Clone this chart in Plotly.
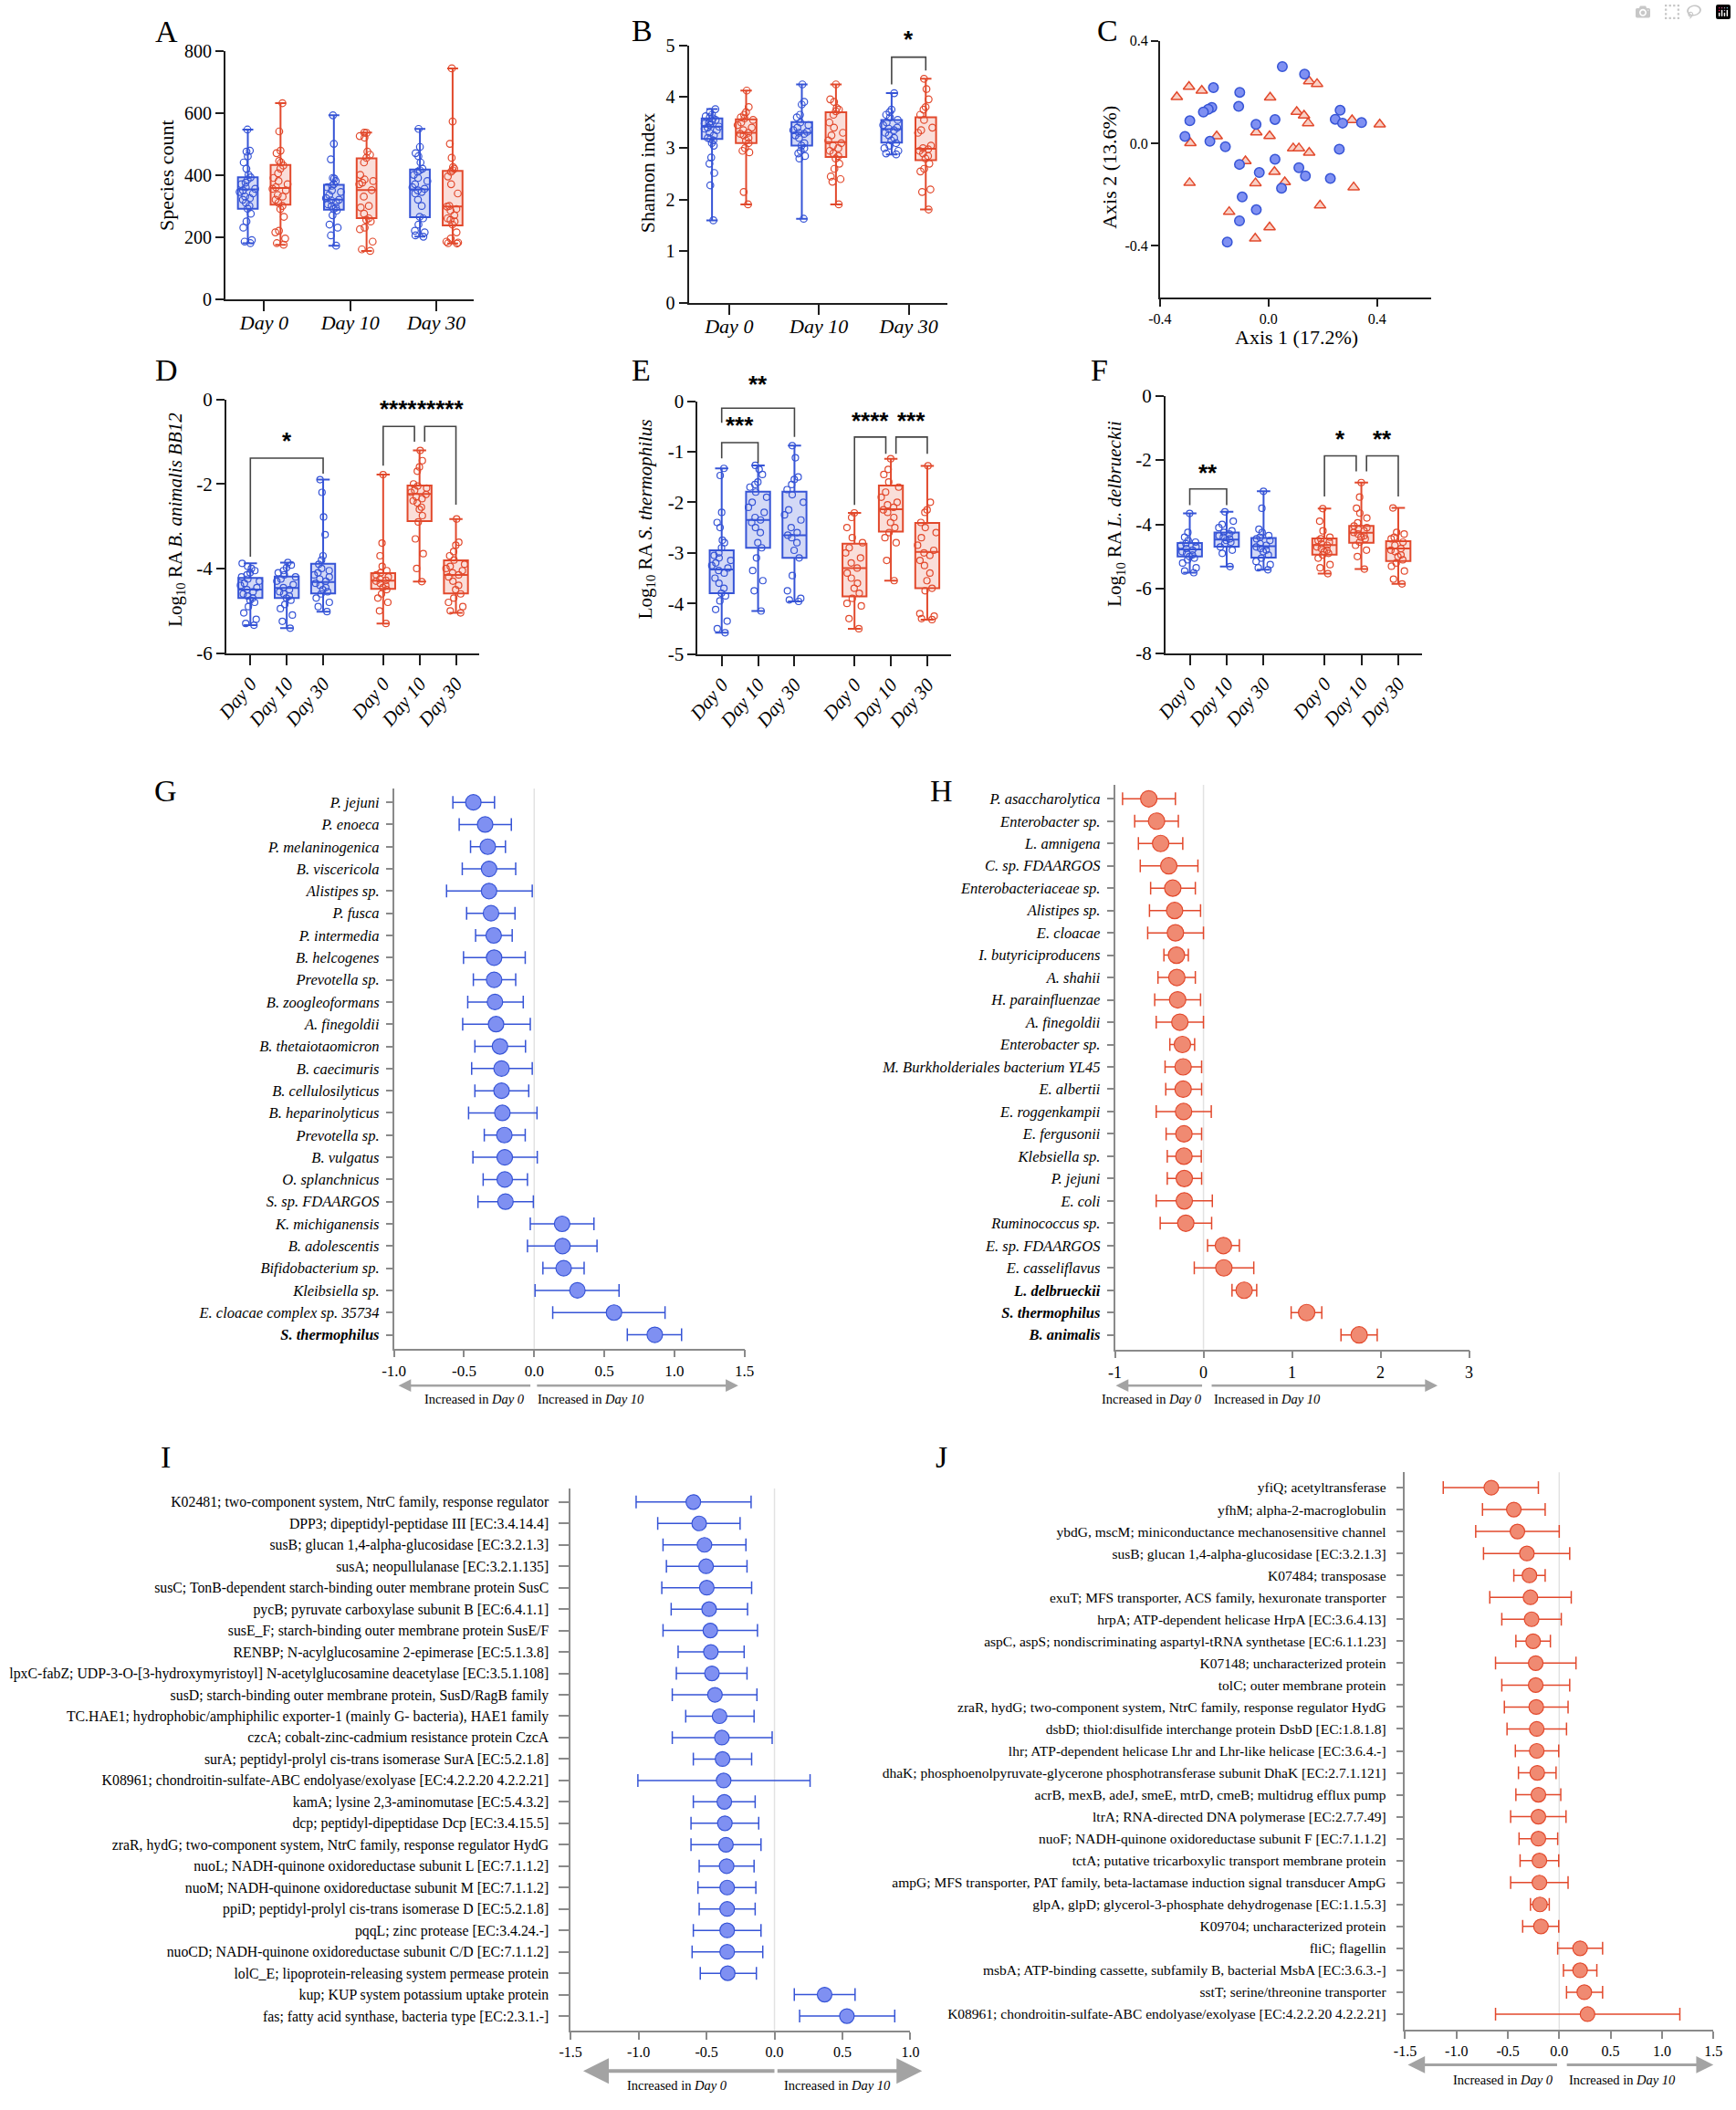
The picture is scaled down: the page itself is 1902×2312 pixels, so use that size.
import plotly.graph_objects as go

W, H = 1902, 2312
SERIF = "Liberation Serif"
SANS = "Liberation Sans"
BLUE, RED = "#3654d6", "#e2492c"
BLUE_FILL, RED_FILL = "rgba(54,84,214,0.22)", "rgba(226,73,44,0.18)"
BLUE_DOT, RED_DOT = "#7f90f2", "#f08a72"
DARK, GRAY = "#1e1e1e", "#8a8a8a"

# ====================== DATA ======================
DAYS = ["Day 0", "Day 10", "Day 30"]

# ---- A: species count, stats per day = [min, q1, median, q3, max]
A_BLUE_STATS = [[180, 291, 353, 392, 546], [172, 288, 320, 368, 592], [201, 264, 353, 417, 548]]
A_RED_STATS = [[175, 304, 358, 432, 631], [155, 261, 351, 453, 536], [179, 237, 298, 413, 743]]
A_BLUE_PTS = [
    [546, 478, 475, 460, 440, 420, 400, 392, 385, 375, 370, 360, 355, 350, 345, 340, 330, 325, 320, 310, 300, 291, 275, 250, 230, 190, 185, 180],
    [592, 500, 450, 390, 388, 380, 370, 365, 360, 350, 345, 335, 325, 320, 318, 312, 305, 300, 295, 290, 285, 270, 240, 230, 205, 172],
    [548, 490, 470, 460, 440, 420, 415, 410, 400, 390, 380, 370, 360, 355, 350, 345, 340, 320, 300, 265, 260, 240, 220, 215, 205, 201],
]
A_RED_PTS = [
    [631, 540, 478, 470, 445, 440, 430, 420, 405, 390, 380, 370, 360, 355, 350, 335, 330, 320, 310, 300, 290, 265, 220, 215, 195, 180, 175],
    [536, 535, 525, 520, 475, 465, 455, 440, 400, 385, 380, 375, 370, 351, 330, 300, 295, 275, 260, 255, 250, 230, 225, 185, 160, 155],
    [743, 572, 500, 455, 425, 420, 415, 410, 395, 370, 340, 300, 298, 290, 285, 270, 260, 255, 250, 240, 215, 195, 185, 182, 180, 179],
]

# ---- B: Shannon index
B_BLUE_STATS = [[1.60, 3.18, 3.42, 3.58, 3.76], [1.63, 3.05, 3.30, 3.51, 4.24], [2.88, 3.11, 3.37, 3.55, 4.07]]
B_RED_STATS = [[1.91, 3.10, 3.30, 3.56, 4.12], [1.91, 2.83, 3.12, 3.70, 4.24], [1.81, 2.77, 2.99, 3.60, 4.35]]
B_BLUE_PTS = [
    [3.76, 3.70, 3.65, 3.62, 3.60, 3.58, 3.55, 3.52, 3.50, 3.48, 3.45, 3.42, 3.40, 3.38, 3.35, 3.30, 3.25, 3.20, 3.18, 3.15, 3.10, 3.05, 2.82, 2.70, 2.52, 2.28, 1.60],
    [4.24, 3.90, 3.85, 3.65, 3.60, 3.50, 3.45, 3.40, 3.35, 3.32, 3.30, 3.28, 3.25, 3.20, 3.10, 3.05, 3.00, 2.95, 2.90, 2.85, 2.80, 1.63],
    [4.07, 3.75, 3.70, 3.65, 3.60, 3.55, 3.50, 3.45, 3.40, 3.38, 3.35, 3.30, 3.25, 3.20, 3.15, 3.10, 3.05, 3.00, 2.95, 2.90, 2.88],
]
B_RED_PTS = [
    [4.12, 3.80, 3.70, 3.65, 3.60, 3.58, 3.55, 3.50, 3.45, 3.40, 3.35, 3.30, 3.28, 3.25, 3.20, 3.15, 3.10, 3.00, 2.95, 2.92, 2.15, 1.91],
    [4.24, 3.95, 3.90, 3.78, 3.75, 3.72, 3.65, 3.50, 3.40, 3.30, 3.25, 3.15, 3.10, 3.05, 3.00, 2.95, 2.90, 2.85, 2.80, 2.70, 2.60, 2.45, 2.40, 2.35, 1.91],
    [4.35, 4.15, 3.95, 3.80, 3.75, 3.65, 3.55, 3.40, 3.35, 3.30, 3.05, 3.00, 2.98, 2.95, 2.90, 2.85, 2.80, 2.70, 2.60, 2.55, 2.20, 2.15, 1.81],
]

# ---- C: PCoA
C_BLUE_X = [0.051, 0.133, -0.203, -0.106, -0.110, -0.209, -0.222, -0.240, -0.290, -0.308, -0.216, -0.159, -0.046, 0.024, 0.264,
            0.246, 0.273, 0.343, 0.261, 0.024, -0.107, -0.034, 0.112, 0.136, 0.228, 0.048, -0.097, -0.045, -0.107, -0.152]
C_BLUE_Y = [0.299, 0.270, 0.217, 0.199, 0.144, 0.140, 0.133, 0.122, 0.088, 0.027, 0.008, -0.013, 0.074, 0.093, 0.129,
            0.094, 0.079, 0.081, -0.023, -0.062, -0.082, -0.114, -0.095, -0.127, -0.137, -0.175, -0.209, -0.259, -0.302, -0.385]
C_RED_X = [-0.338, -0.293, -0.246, -0.191, -0.288, -0.291, 0.006, 0.150, 0.179, 0.104, 0.131, 0.146, -0.045, 0.004,
           0.308, 0.410, 0.091, 0.112, 0.150, -0.085, 0.022, -0.048, 0.060, 0.314, 0.190, -0.145, 0.004, -0.049]
C_RED_Y = [0.181, 0.221, 0.206, 0.028, 0.001, -0.154, 0.179, 0.242, 0.232, 0.123, 0.109, 0.079, 0.043, 0.029,
           0.091, 0.074, -0.019, -0.019, -0.036, -0.069, -0.111, -0.155, -0.151, -0.171, -0.242, -0.267, -0.327, -0.371]

# ---- D: log10 RA B. animalis BB12
D_BLUE_STATS = [[-5.34, -4.70, -4.50, -4.22, -3.88], [-5.41, -4.70, -4.46, -4.19, -3.86], [-5.02, -4.59, -4.32, -3.89, -1.90]]
D_RED_STATS = [[-5.30, -4.48, -4.29, -4.11, -1.78], [-4.31, -2.88, -2.24, -2.04, -1.21], [-5.05, -4.59, -4.15, -3.81, -2.83]]
D_BLUE_PTS = [
    [-3.88, -3.95, -4.00, -4.05, -4.10, -4.15, -4.20, -4.25, -4.30, -4.35, -4.40, -4.45, -4.50, -4.55, -4.60, -4.65, -4.70, -4.75, -4.80, -4.90, -5.05, -5.20, -5.30, -5.34],
    [-3.86, -3.92, -3.98, -4.05, -4.10, -4.15, -4.20, -4.25, -4.30, -4.38, -4.45, -4.50, -4.55, -4.60, -4.65, -4.70, -4.75, -4.85, -4.95, -5.10, -5.25, -5.41],
    [-1.90, -2.20, -2.78, -3.20, -3.70, -3.80, -3.90, -4.00, -4.05, -4.10, -4.15, -4.20, -4.25, -4.30, -4.35, -4.40, -4.45, -4.50, -4.55, -4.60, -4.70, -4.80, -4.90, -5.02],
]
D_RED_PTS = [
    [-1.78, -3.40, -3.70, -3.95, -4.05, -4.10, -4.15, -4.20, -4.25, -4.28, -4.30, -4.35, -4.40, -4.45, -4.50, -4.60, -4.70, -4.80, -5.00, -5.30],
    [-1.21, -1.45, -1.60, -1.70, -2.00, -2.05, -2.10, -2.15, -2.20, -2.25, -2.30, -2.35, -2.40, -2.45, -2.55, -2.60, -2.75, -2.90, -3.30, -3.65, -4.00, -4.31],
    [-2.83, -3.38, -3.45, -3.60, -3.70, -3.80, -3.90, -3.95, -4.00, -4.05, -4.10, -4.15, -4.20, -4.30, -4.40, -4.50, -4.60, -4.70, -4.80, -4.90, -5.00, -5.05],
]

# ---- E: log10 RA S. thermophilus
E_BLUE_STATS = [[-4.58, -3.80, -3.33, -2.95, -1.33], [-4.15, -2.90, -2.35, -1.79, -1.27], [-3.96, -3.10, -2.65, -1.79, -0.88]]
E_RED_STATS = [[-4.50, -3.86, -3.30, -2.82, -2.21], [-3.55, -2.58, -2.14, -1.67, -1.14], [-4.32, -3.70, -2.98, -2.41, -1.28]]
E_BLUE_PTS = [
    [-1.33, -1.47, -2.20, -2.40, -2.50, -2.75, -2.80, -2.90, -3.00, -3.05, -3.10, -3.15, -3.20, -3.25, -3.30, -3.35, -3.40, -3.50, -3.60, -3.70, -3.80, -3.85, -3.95, -4.12, -4.35, -4.50, -4.58],
    [-1.27, -1.35, -1.45, -1.60, -1.65, -1.70, -1.80, -1.90, -2.00, -2.10, -2.20, -2.30, -2.35, -2.40, -2.50, -2.60, -2.80, -2.90, -3.10, -3.35, -3.55, -3.75, -4.15],
    [-0.88, -1.12, -1.50, -1.55, -1.65, -1.75, -1.85, -2.00, -2.15, -2.25, -2.35, -2.50, -2.60, -2.65, -2.70, -2.80, -2.95, -3.10, -3.45, -3.75, -3.90, -3.93, -3.96],
]
E_RED_PTS = [
    [-2.21, -2.30, -2.50, -2.70, -2.80, -2.90, -3.00, -3.10, -3.20, -3.30, -3.40, -3.50, -3.60, -3.70, -3.80, -3.90, -4.00, -4.05, -4.30, -4.50],
    [-1.14, -1.35, -1.45, -1.60, -1.70, -1.80, -1.90, -2.00, -2.05, -2.10, -2.15, -2.20, -2.30, -2.40, -2.50, -2.60, -2.70, -2.80, -3.15, -3.55],
    [-1.28, -2.00, -2.15, -2.20, -2.40, -2.50, -2.60, -2.70, -2.85, -2.95, -3.00, -3.05, -3.15, -3.25, -3.40, -3.55, -3.70, -3.75, -4.20, -4.25, -4.30, -4.32],
]

# ---- F: log10 RA L. delbrueckii
F_BLUE_STATS = [[-5.50, -5.00, -4.78, -4.58, -3.66], [-5.31, -4.69, -4.47, -4.25, -3.61], [-5.41, -5.03, -4.68, -4.42, -2.97]]
F_RED_STATS = [[-5.53, -4.94, -4.64, -4.44, -3.51], [-5.39, -4.57, -4.26, -4.05, -2.70], [-5.85, -5.14, -4.75, -4.52, -3.49]]
F_BLUE_PTS = [
    [-3.66, -4.25, -4.40, -4.50, -4.55, -4.60, -4.65, -4.70, -4.75, -4.80, -4.85, -4.90, -4.95, -5.00, -5.05, -5.10, -5.20, -5.35, -5.45, -5.50],
    [-3.61, -3.90, -4.00, -4.10, -4.20, -4.25, -4.30, -4.35, -4.40, -4.45, -4.50, -4.55, -4.60, -4.70, -4.80, -4.90, -5.31],
    [-2.97, -3.50, -4.15, -4.25, -4.35, -4.40, -4.45, -4.50, -4.60, -4.65, -4.70, -4.75, -4.80, -4.85, -4.95, -5.05, -5.15, -5.25, -5.35, -5.41],
]
F_RED_PTS = [
    [-3.51, -3.90, -4.20, -4.40, -4.45, -4.50, -4.55, -4.60, -4.65, -4.70, -4.75, -4.80, -4.85, -4.90, -4.95, -5.05, -5.25, -5.35, -5.53],
    [-2.70, -3.15, -3.50, -3.65, -3.80, -3.95, -4.05, -4.10, -4.15, -4.20, -4.25, -4.30, -4.35, -4.40, -4.45, -4.55, -4.65, -4.80, -5.00, -5.39],
    [-3.49, -4.25, -4.30, -4.40, -4.45, -4.55, -4.65, -4.75, -4.80, -4.85, -4.95, -5.00, -5.10, -5.20, -5.30, -5.45, -5.70, -5.85],
]

# ---- G: taxa (Day 0 vs Day 10, blue group)
G_LABELS = ["P. jejuni", "P. enoeca", "P. melaninogenica", "B. viscericola", "Alistipes sp.", "P. fusca",
            "P. intermedia", "B. helcogenes", "Prevotella sp.", "B. zoogleoformans", "A. finegoldii",
            "B. thetaiotaomicron", "B. caecimuris", "B. cellulosilyticus", "B. heparinolyticus", "Prevotella sp.",
            "B. vulgatus", "O. splanchnicus", "S. sp. FDAARGOS", "K. michiganensis", "B. adolescentis",
            "Bifidobacterium sp.", "Kleibsiella sp.", "E. cloacae complex sp. 35734", "S. thermophilus"]
G_BOLD = ["S. thermophilus"]
G_MEAN = [-0.434, -0.350, -0.331, -0.322, -0.322, -0.308, -0.289, -0.286, -0.286, -0.280, -0.272, -0.244, -0.233,
          -0.233, -0.227, -0.213, -0.210, -0.210, -0.205, 0.199, 0.202, 0.210, 0.308, 0.569, 0.860]
G_LO = [-0.580, -0.535, -0.454, -0.513, -0.625, -0.482, -0.418, -0.504, -0.434, -0.474, -0.510, -0.423, -0.446,
        -0.423, -0.468, -0.356, -0.437, -0.364, -0.401, -0.028, -0.048, 0.062, 0.006, 0.132, 0.664]
G_HI = [-0.283, -0.163, -0.205, -0.132, -0.014, -0.137, -0.157, -0.064, -0.132, -0.078, -0.028, -0.062, -0.014,
        -0.039, 0.020, -0.064, 0.022, -0.048, -0.006, 0.426, 0.448, 0.356, 0.605, 0.933, 1.051]

# ---- H: taxa (red group)
H_LABELS = ["P. asaccharolytica", "Enterobacter sp.", "L. amnigena", "C. sp. FDAARGOS", "Enterobacteriaceae sp.",
            "Alistipes sp.", "E. cloacae", "I. butyriciproducens", "A. shahii", "H. parainfluenzae", "A. finegoldii",
            "Enterobacter sp.", "M. Burkholderiales bacterium YL45", "E. albertii", "E. roggenkampii",
            "E. fergusonii", "Klebsiella sp.", "P. jejuni", "E. coli", "Ruminococcus sp.", "E. sp. FDAARGOS",
            "E. casseliflavus", "L. delbrueckii", "S. thermophilus", "B. animalis"]
H_BOLD = ["L. delbrueckii", "S. thermophilus", "B. animalis"]
H_MEAN = [-0.618, -0.530, -0.484, -0.392, -0.347, -0.326, -0.317, -0.305, -0.301, -0.292, -0.267, -0.238, -0.230,
          -0.230, -0.225, -0.221, -0.221, -0.217, -0.217, -0.200, 0.225, 0.230, 0.459, 1.165, 1.758]
H_LO = [-0.914, -0.777, -0.735, -0.714, -0.597, -0.610, -0.630, -0.447, -0.514, -0.551, -0.534, -0.380, -0.434,
        -0.426, -0.534, -0.422, -0.409, -0.409, -0.534, -0.489, 0.046, -0.104, 0.322, 0.990, 1.553]
H_HI = [-0.317, -0.284, -0.234, -0.063, -0.092, -0.033, 0.000, -0.171, -0.092, -0.033, 0.000, -0.100, -0.021,
        -0.021, 0.088, -0.021, -0.025, -0.021, 0.100, 0.092, 0.405, 0.568, 0.601, 1.336, 1.962]

# ---- I: KEGG orthologs (blue group)
I_LABELS = [
    "K02481; two-component system, NtrC family, response regulator",
    "DPP3; dipeptidyl-peptidase III [EC:3.4.14.4]",
    "susB; glucan 1,4-alpha-glucosidase [EC:3.2.1.3]",
    "susA; neopullulanase [EC:3.2.1.135]",
    "susC; TonB-dependent starch-binding outer membrane protein SusC",
    "pycB; pyruvate carboxylase subunit B [EC:6.4.1.1]",
    "susE_F; starch-binding outer membrane protein SusE/F",
    "RENBP; N-acylglucosamine 2-epimerase [EC:5.1.3.8]",
    "lpxC-fabZ; UDP-3-O-[3-hydroxymyristoyl] N-acetylglucosamine deacetylase [EC:3.5.1.108]",
    "susD; starch-binding outer membrane protein, SusD/RagB family",
    "TC.HAE1; hydrophobic/amphiphilic exporter-1 (mainly G- bacteria), HAE1 family",
    "czcA; cobalt-zinc-cadmium resistance protein CzcA",
    "surA; peptidyl-prolyl cis-trans isomerase SurA [EC:5.2.1.8]",
    "K08961; chondroitin-sulfate-ABC endolyase/exolyase [EC:4.2.2.20 4.2.2.21]",
    "kamA; lysine 2,3-aminomutase [EC:5.4.3.2]",
    "dcp; peptidyl-dipeptidase Dcp [EC:3.4.15.5]",
    "zraR, hydG; two-component system, NtrC family, response regulator HydG",
    "nuoL; NADH-quinone oxidoreductase subunit L [EC:7.1.1.2]",
    "nuoM; NADH-quinone oxidoreductase subunit M [EC:7.1.1.2]",
    "ppiD; peptidyl-prolyl cis-trans isomerase D [EC:5.2.1.8]",
    "pqqL; zinc protease [EC:3.4.24.-]",
    "nuoCD; NADH-quinone oxidoreductase subunit C/D [EC:7.1.1.2]",
    "lolC_E; lipoprotein-releasing system permease protein",
    "kup; KUP system potassium uptake protein",
    "fas; fatty acid synthase, bacteria type [EC:2.3.1.-]",
]
I_MEAN = [-0.597, -0.554, -0.515, -0.503, -0.498, -0.481, -0.472, -0.468, -0.460, -0.438, -0.404, -0.387, -0.382,
          -0.374, -0.369, -0.365, -0.357, -0.352, -0.348, -0.348, -0.348, -0.348, -0.344, 0.369, 0.533]
I_LO = [-1.018, -0.859, -0.820, -0.795, -0.829, -0.760, -0.820, -0.709, -0.722, -0.752, -0.653, -0.752, -0.597,
        -1.005, -0.597, -0.614, -0.614, -0.554, -0.563, -0.554, -0.597, -0.606, -0.546, 0.146, 0.185]
I_HI = [-0.172, -0.253, -0.210, -0.202, -0.168, -0.198, -0.125, -0.223, -0.202, -0.129, -0.150, -0.017, -0.168,
        0.262, -0.142, -0.116, -0.099, -0.150, -0.137, -0.142, -0.099, -0.086, -0.133, 0.593, 0.885]

# ---- J: KEGG orthologs (red group)
J_LABELS = [
    "yfiQ; acetyltransferase",
    "yfhM; alpha-2-macroglobulin",
    "ybdG, mscM; miniconductance mechanosensitive channel",
    "susB; glucan 1,4-alpha-glucosidase [EC:3.2.1.3]",
    "K07484; transposase",
    "exuT; MFS transporter, ACS family, hexuronate transporter",
    "hrpA; ATP-dependent helicase HrpA [EC:3.6.4.13]",
    "aspC, aspS; nondiscriminating aspartyl-tRNA synthetase [EC:6.1.1.23]",
    "K07148; uncharacterized protein",
    "tolC; outer membrane protein",
    "zraR, hydG; two-component system, NtrC family, response regulator HydG",
    "dsbD; thiol:disulfide interchange protein DsbD [EC:1.8.1.8]",
    "lhr; ATP-dependent helicase Lhr and Lhr-like helicase [EC:3.6.4.-]",
    "dhaK; phosphoenolpyruvate-glycerone phosphotransferase subunit DhaK [EC:2.7.1.121]",
    "acrB, mexB, adeJ, smeE, mtrD, cmeB; multidrug efflux pump",
    "ltrA; RNA-directed DNA polymerase [EC:2.7.7.49]",
    "nuoF; NADH-quinone oxidoreductase subunit F [EC:7.1.1.2]",
    "tctA; putative tricarboxylic transport membrane protein",
    "ampG; MFS transporter, PAT family, beta-lactamase induction signal transducer AmpG",
    "glpA, glpD; glycerol-3-phosphate dehydrogenase [EC:1.1.5.3]",
    "K09704; uncharacterized protein",
    "fliC; flagellin",
    "msbA; ATP-binding cassette, subfamily B, bacterial MsbA [EC:3.6.3.-]",
    "sstT; serine/threonine transporter",
    "K08961; chondroitin-sulfate-ABC endolyase/exolyase [EC:4.2.2.20 4.2.2.21]",
]
J_MEAN = [-0.661, -0.442, -0.407, -0.315, -0.290, -0.280, -0.269, -0.254, -0.229, -0.229, -0.224, -0.219, -0.219,
          -0.214, -0.203, -0.203, -0.203, -0.193, -0.193, -0.188, -0.178, 0.203, 0.203, 0.244, 0.275]
J_LO = [-1.129, -0.747, -0.813, -0.737, -0.442, -0.676, -0.559, -0.422, -0.620, -0.559, -0.534, -0.508, -0.427,
        -0.397, -0.422, -0.473, -0.391, -0.381, -0.473, -0.280, -0.356, -0.015, 0.041, 0.071, -0.620]
J_HI = [-0.203, -0.137, 0.000, 0.102, -0.137, 0.117, 0.020, -0.086, 0.163, 0.102, 0.086, 0.071, -0.005, -0.031,
        0.015, 0.066, -0.015, -0.005, 0.086, -0.097, -0.005, 0.422, 0.366, 0.422, 1.174]

# significance: (x-left, x-right, bracket top, left-leg end, right-leg end, stars, star height)
B_SIG = [(1.81, 2.19, 4.77, 4.24, 4.51, "*", 5.05)]

# ====================== LAYOUT GEOMETRY ======================
PANELS = ["A", "B", "C", "D", "E", "F", "G", "H", "I", "J"]
PIX = {  # left, right, top, bottom (pixels)
    "A": (237, 512, 44, 319), "B": (751, 1038, 38, 323), "C": (1274, 1575, 33, 317),
    "D": (238, 519, 430, 711), "E": (761, 1042, 432, 712), "F": (1280, 1565, 426, 711),
    "G": (424, 813, 861, 1481), "H": (1224, 1617, 857, 1482),
    "I": (620, 997, 1636, 2236), "J": (1546, 1888, 1618, 2235),
}
YR = {"A": [0, 800], "B": [0, 5], "C": [-0.6, 0.4], "D": [-6, 0], "E": [-5, 0], "F": [-8, 0]}


def refs(p):
    n = PANELS.index(p) + 1
    return ("x" if n == 1 else f"x{n}"), ("y" if n == 1 else f"y{n}")


def lkeys(p):
    n = PANELS.index(p) + 1
    return ("xaxis" if n == 1 else f"xaxis{n}"), ("yaxis" if n == 1 else f"yaxis{n}")


fig = go.Figure()


def base(color, lw, ticklen, fs, **kw):
    d = dict(showline=True, linecolor=color, linewidth=lw, ticks="outside", ticklen=ticklen, tickwidth=lw,
             tickcolor=color, showgrid=False, zeroline=False, fixedrange=True,
             tickfont=dict(family=SERIF, size=fs, color="black"))
    d.update(kw)
    return d


def set_axes(p, xc, yc):
    l, r, t, b = PIX[p]
    xk, yk = lkeys(p)
    xa, ya = refs(p)
    xc.update(domain=[l / W, r / W], anchor=ya)
    yc.update(domain=[1 - b / H, 1 - t / H], anchor=xa)
    fig.update_layout({xk: xc, yk: yc})


def add_boxes(p, positions, stats, pts, color, fill, width, msize):
    xa, ya = refs(p)
    for pos, st, pp in zip(positions, stats, pts):
        fig.add_trace(go.Box(x=[pos], lowerfence=[st[0]], q1=[st[1]], median=[st[2]], q3=[st[3]],
                             upperfence=[st[4]], width=width, whiskerwidth=0.55, fillcolor=fill,
                             line=dict(color=color, width=2), boxpoints=False, xaxis=xa, yaxis=ya,
                             hoverinfo="skip", showlegend=False))
        fig.add_trace(go.Box(x=[pos] * len(pp), y=pp, width=width, boxpoints="all", jitter=0.85, pointpos=0,
                             fillcolor="rgba(0,0,0,0)", line=dict(color="rgba(0,0,0,0)", width=0),
                             marker=dict(symbol="circle-open", size=msize, color=color,
                                         line=dict(color=color, width=1.2)),
                             xaxis=xa, yaxis=ya, hoverinfo="skip", showlegend=False))


def bracket(p, x0, x1, top, y0, y1):
    xa, ya = refs(p)
    fig.add_shape(type="path", path=f"M {x0},{y0} L {x0},{top} L {x1},{top} L {x1},{y1}",
                  xref=xa, yref=ya, line=dict(color="#444444", width=1.6))


def star(p, x, yval, text):
    l, r, t, b = PIX[p]
    yr = YR[p]
    ypx = b - (yval - yr[0]) / (yr[1] - yr[0]) * (b - t)
    xa, _ = refs(p)
    fig.add_annotation(x=x, xref=xa, y=1 - ypx / H, yref="paper", text=f"<b>{text}</b>", showarrow=False,
                       xanchor="center", yanchor="middle",
                       font=dict(family=SANS, size=26, color="black"), yshift=4)


def ann(x, y, text, size, **kw):
    fig.add_annotation(x=x / W, y=1 - y / H, xref="paper", yref="paper", text=text, showarrow=False,
                       xanchor="center", yanchor="middle",
                       font=dict(family=SERIF, size=size, color="black"), **kw)


def arrow(xh, xt, y, width, size):
    fig.add_annotation(x=xh / W, y=1 - y / H, xref="paper", yref="paper", ax=xt - xh, ay=0,
                       axref="pixel", ayref="pixel", text="", showarrow=True, arrowhead=2,
                       arrowsize=size, arrowwidth=width, arrowcolor="#a3a3a3", standoff=0, startstandoff=0)


DAY_TEXT = [f"<i>{d}</i>" for d in DAYS]

# ---------------- A & B ----------------
AB_POS = [0, 1, 2]
OFF = 0.19
for p, bs, rs, bp, rp, yt in [("A", A_BLUE_STATS, A_RED_STATS, A_BLUE_PTS, A_RED_PTS, [0, 200, 400, 600, 800]),
                              ("B", B_BLUE_STATS, B_RED_STATS, B_BLUE_PTS, B_RED_PTS, [0, 1, 2, 3, 4, 5])]:
    add_boxes(p, [x - OFF for x in AB_POS], bs, bp, BLUE, BLUE_FILL, 0.23, 7.5)
    add_boxes(p, [x + OFF for x in AB_POS], rs, rp, RED, RED_FILL, 0.23, 7.5)
    set_axes(p,
             base(DARK, 2, 11, 22, range=[-0.45, 2.43], tickvals=AB_POS, ticktext=DAY_TEXT, ticklabelstandoff=-6),
             base(DARK, 2, 9, 20, range=YR[p], tickvals=yt, ticktext=[str(v) for v in yt]))
for x0, x1, top, y0, y1, txt, sy in B_SIG:
    bracket("B", x0, x1, top, y0, y1)
    star("B", (x0 + x1) / 2, sy, txt)

# ---------------- C ----------------
xa, ya = refs("C")
fig.add_trace(go.Scatter(x=C_RED_X, y=C_RED_Y, mode="markers", xaxis=xa, yaxis=ya, showlegend=False,
                         marker=dict(symbol="triangle-up", size=11, color="#f9d0c5", line=dict(color=RED, width=1.5))))
fig.add_trace(go.Scatter(x=C_BLUE_X, y=C_BLUE_Y, mode="markers", xaxis=xa, yaxis=ya, showlegend=False,
                         marker=dict(symbol="circle", size=10.5, color=BLUE_DOT, line=dict(color=BLUE, width=1.5))))
C_TICKS = [-0.4, 0.0, 0.4]
set_axes("C",
         base(DARK, 2, 8, 16, range=[-0.4, 0.6], tickvals=C_TICKS, ticktext=[f"{v:.1f}" for v in C_TICKS]),
         base(DARK, 2, 8, 16, range=YR["C"], tickvals=C_TICKS, ticktext=[f"{v:.1f}" for v in C_TICKS]))

# ---------------- D, E, F ----------------
DEF_POS = [0, 1, 2, 3.65, 4.65, 5.65]
for p, bs, rs, bp, rp, yt in [("D", D_BLUE_STATS, D_RED_STATS, D_BLUE_PTS, D_RED_PTS, [0, -2, -4, -6]),
                              ("E", E_BLUE_STATS, E_RED_STATS, E_BLUE_PTS, E_RED_PTS, [0, -1, -2, -3, -4, -5]),
                              ("F", F_BLUE_STATS, F_RED_STATS, F_BLUE_PTS, F_RED_PTS, [0, -2, -4, -6, -8])]:
    add_boxes(p, DEF_POS[:3], bs, bp, BLUE, BLUE_FILL, 0.66, 7)
    add_boxes(p, DEF_POS[3:], rs, rp, RED, RED_FILL, 0.66, 7)
    set_axes(p,
             base(DARK, 2, 11, 21, range=[-0.66, 6.3], tickvals=DEF_POS, ticktext=DAY_TEXT * 2, tickangle=-50),
             base(DARK, 2, 9, 21, range=YR[p], tickvals=yt, ticktext=[str(v) for v in yt]))

P = DEF_POS
S = 0.14
D_SIG = [(P[0], P[2], -1.39, -3.72, -1.76, "*", -1.07),
         (P[3], P[4] - S, -0.64, -1.57, -1.00, "****", -0.32),
         (P[4] + S, P[5], -0.64, -1.00, -2.49, "*****", -0.32)]
E_SIG = [(P[0], P[2], -0.14, -0.43, -0.71, "**", 0.27),
         (P[0], P[1], -0.82, -1.13, -1.22, "***", -0.55),
         (P[3], P[4] - S, -0.71, -2.05, -1.04, "****", -0.46),
         (P[4] + S, P[5], -0.71, -1.04, -1.04, "***", -0.46)]
F_SIG = [(P[0], P[1], -2.90, -3.40, -3.40, "**", -2.51),
         (P[3], P[4] - S, -1.87, -3.13, -2.35, "*", -1.45),
         (P[4] + S, P[5], -1.87, -2.35, -3.13, "**", -1.45)]
for p, sig in [("D", D_SIG), ("E", E_SIG), ("F", F_SIG)]:
    for x0, x1, top, y0, y1, txt, sy in sig:
        bracket(p, x0, x1, top, y0, y1)
        star(p, (x0 + x1) / 2, sy, txt)


# ---------------- forest plots ----------------
def forest(p, labels, mean, lo, hi, color, fill, msize, italic, bold, lab_fs, tick_fs, xr, xt, xfmt, yr,
           ticklen_y, standoff):
    xa, ya = refs(p)
    idx = list(range(len(labels)))
    fig.add_trace(go.Scatter(
        x=mean, y=idx, mode="markers", xaxis=xa, yaxis=ya, showlegend=False,
        marker=dict(size=msize, color=fill, line=dict(color=color, width=1.2)),
        error_x=dict(type="data", symmetric=False, array=[h - m for h, m in zip(hi, mean)],
                     arrayminus=[m - l for m, l in zip(mean, lo)], color=color, thickness=1.5, width=7)))
    if italic:
        tt = [f"<b><i>{s}</i></b>" if s in bold else f"<i>{s}</i>" for s in labels]
    else:
        tt = list(labels)
    fig.add_shape(type="line", xref=xa, yref=f"{ya} domain", x0=0, x1=0, y0=0, y1=1,
                  line=dict(color="#e2e2e2", width=1.5), layer="below")
    set_axes(p,
             base(GRAY, 1.6, 8, tick_fs, range=xr, tickvals=xt, ticktext=[xfmt.format(v) for v in xt]),
             base(GRAY, 1.6, ticklen_y, lab_fs, range=yr, tickvals=idx, ticktext=tt, ticklabelstandoff=standoff))


forest("G", G_LABELS, G_MEAN, G_LO, G_HI, BLUE, BLUE_DOT, 17, True, G_BOLD, 16.5, 17,
       [-1, 1.5], [-1.0, -0.5, 0.0, 0.5, 1.0, 1.5], "{:.1f}", [24.62, -0.62], 7, 4)
forest("H", H_LABELS, H_MEAN, H_LO, H_HI, RED, RED_DOT, 18, True, H_BOLD, 16.5, 18,
       [-1, 3], [-1, 0, 1, 2, 3], "{:d}", [24.65, -0.62], 7, 4)
forest("I", I_LABELS, I_MEAN, I_LO, I_HI, BLUE, BLUE_DOT, 16, False, [], 15.8, 16,
       [-1.5, 1.0], [-1.5, -1.0, -0.5, 0.0, 0.5, 1.0], "{:.1f}", [24.67, -0.63], 11, 8)
forest("J", J_LABELS, J_MEAN, J_LO, J_HI, RED, RED_DOT, 16, False, [], 15.5, 16,
       [-1.5, 1.5], [-1.5, -1.0, -0.5, 0.0, 0.5, 1.0, 1.5], "{:.1f}", [24.7, -0.7], 8, 8)

# ---------------- panel letters & titles ----------------
for letter, x, y in [("A", 172, 23), ("B", 699, 22), ("C", 1216, 22), ("D", 172, 398), ("E", 698, 398),
                     ("F", 1207, 398), ("G", 171, 863), ("H", 1032, 863), ("I", 171, 1601), ("J", 1032, 1601)]:
    ann(x, y, letter, 34)

ann(171, 182, "Species count", 22, textangle=-90)
ann(705, 180, "Shannon index", 22, textangle=-90)
ann(1218, 173, "Axis 2 (13.6%)", 22, textangle=-90)
ann(1425, 361, "Axis 1 (17.2%)", 22)
ann(182, 563, "Log<sub>10</sub> RA <i>B. animalis BB12</i>", 21, textangle=-90)
ann(704, 563, "Log<sub>10</sub> RA <i>S. thermophilus</i>", 21, textangle=-90)
ann(1225, 557, "Log<sub>10</sub> RA <i>L. delbrueckii</i>", 21, textangle=-90)

# direction arrows + captions
for (lh, lt, rt, rh, y, w, s, tl, tr, ty) in [
    (429, 575, 584, 806, 1522, 2.5, 1.1, 513, 643, 1537),
    (1225, 1321, 1333, 1582, 1522, 2.5, 1.1, 1265, 1393, 1537),
    (634, 845, 850, 1010, 2281, 4, 1.4, 738, 916, 2297),
    (1549, 1714, 1726, 1888, 2274, 3, 1.25, 1655, 1787, 2291),
]:
    arrow(lh, lt, y, w, s)
    arrow(rh, rt, y, w, s)
    ann(tl, ty, "Increased in <i>Day 0</i>", 14.5)
    ann(tr, ty, "Increased in <i>Day 10</i>", 14.5)

fig.update_layout(width=W, height=H, autosize=False, margin=dict(l=0, r=0, t=0, b=0),
                  paper_bgcolor="white", plot_bgcolor="white", showlegend=False, hovermode=False,
                  boxmode="overlay", font=dict(family=SERIF, color="black"))

fig.write_html("out.html", post_script="document.body.style.margin='0';")
